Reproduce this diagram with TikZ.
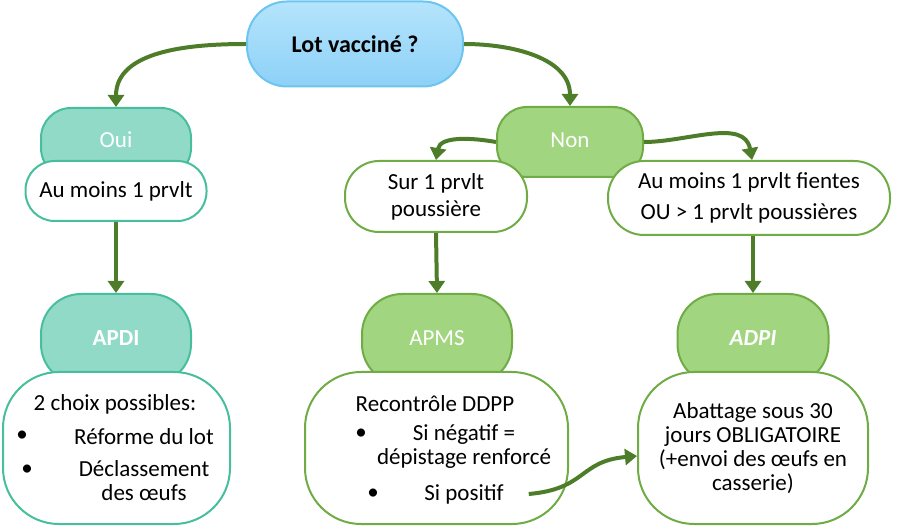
\documentclass[tikz,border=0pt]{standalone}
\usepackage{fontspec}
\setmainfont{Carlito}
\usetikzlibrary{arrows.meta}
\definecolor{arrowgreen}{HTML}{4E7D2A}
\definecolor{tealfill}{HTML}{91DAC8}
\definecolor{tealline}{HTML}{47BF9C}
\definecolor{greenfill}{HTML}{A1D57F}
\definecolor{greenline}{HTML}{6FAC46}
\definecolor{bluetop}{HTML}{B5E4FC}
\definecolor{bluebot}{HTML}{8DD1F7}
\definecolor{blueline}{HTML}{6CC5F0}
\tikzset{
  arr/.style={line width=2pt, draw=arrowgreen, -{Triangle[width=8pt,length=6pt]}},
  head/.style={line width=1pt, text=white, minimum width=75pt},
  teal head/.style={head, fill=tealfill, draw=tealline},
  green head/.style={head, fill=greenfill, draw=greenline},
  leaf/.style={line width=1pt, fill=white, align=center},
  teal leaf/.style={leaf, draw=tealline},
  green leaf/.style={leaf, draw=greenline},
  big leaf/.style={minimum height=76pt, rounded corners=28pt},
}
\begin{document}
\begin{tikzpicture}[x=0.5pt, y=-0.5pt, font=\fontsize{11.5}{12.5}\selectfont]
  \useasboundingbox (0,0) rectangle (900,529);
  % question
  \node[draw=blueline, line width=1pt, top color=bluetop, bottom color=bluebot,
        minimum width=108pt, minimum height=42.5pt, rounded corners=20pt,
        font=\fontsize{12}{13}\selectfont\bfseries] (lot) at (355,44) {Lot vacciné ?};
  % headers of first level
  \node[teal head, minimum height=35pt, rounded corners=15pt] (oui) at (116,143) {};
  \node[text=white] (ouitxt) at (116,140) {Oui};
  \node[green head, minimum width=73pt, minimum height=35pt, rounded corners=15pt] (non) at (570,142) {};
  \node[text=white] (nontxt) at (570,140) {Non};
  % conditions
  \node[teal leaf, minimum width=90.5pt, minimum height=30pt, rounded corners=14.5pt] (prvlt) at (116,191) {Au moins 1 prvlt};
  \node[green leaf, minimum width=91pt, minimum height=35.5pt, rounded corners=17pt] (sur) at (436,196.5) {Sur 1 prvlt\\[1pt]poussière};
  \node[green leaf, minimum width=141pt, minimum height=37pt, rounded corners=18pt] (fientes) at (749,198) {Au moins 1 prvlt fientes\\[3pt]OU > 1 prvlt poussières};
  % decisions
  \node[teal head, minimum height=45pt, rounded corners=20pt] (apdi) at (116,339) {};
  \node[text=white, font=\fontsize{11.5}{12.5}\selectfont\bfseries] (apditxt) at (116,338) {APDI};
  \node[green head, minimum height=45pt, rounded corners=20pt] (apms) at (437,339) {};
  \node[text=white] (apmstxt) at (437,338) {APMS};
  \node[green head, minimum width=75.5pt, minimum height=45pt, rounded corners=20pt] (adpi) at (753,339) {};
  \node[text=white, font=\fontsize{11.5}{12.5}\selectfont\bfseries\itshape] (adpitxt) at (753,338) {ADPI};
  % measures
  \node[teal leaf, big leaf, minimum width=113.5pt] (apdibox) at (116.5,448) {};
  \node (choix) at (115,404) {2 choix possibles:};
  \node (b1) at (22,436) {•};
  \node (reforme) at (144,437) {Réforme du lot};
  \node (b2) at (27,470) {•};
  \node[align=center] (declass) at (144,481) {Déclassement\\[-0.5pt]des œufs};
  \node[green leaf, big leaf, minimum width=131.5pt] (apmsbox) at (436.5,448) {};
  \node (recontrole) at (435,404) {Recontrôle DDPP};
  \node (b3) at (361,434) {•};
  \node[align=center] (negatif) at (464,447) {Si négatif =\\[-0.5pt]dépistage renforcé};
  \node (b4) at (373,494) {•};
  \node (positif) at (464,494) {Si positif};
  \node[green leaf, big leaf, minimum width=115pt] (adpibox) at (753,448)
    {Abattage sous 30\\[-0.5pt]jours OBLIGATOIRE\\[-0.5pt](+envoi des œufs en\\[-0.5pt]casserie)};
  % connectors
  \draw[arr] (lot.west) to[out=180, in=90] (oui.north);
  \draw[arr] (lot.east) to[out=0, in=90] (non.north);
  \draw[arr] (non.west) to[out=170, in=80] (sur.north);
  \draw[arr] (non.east) to[out=0, in=100] ([xshift=1.5pt]fientes.north);
  \draw[arr] (prvlt.south) -- (apdi.north);
  \draw[arr] (sur.south) -- (apms.north);
  \draw[arr] (adpi.north |- fientes.south) -- (adpi.north);
  \draw[arr] ([xshift=9pt]positif.east) to[out=5, in=185, looseness=1.3] ([yshift=-4pt]adpibox.west);
\end{tikzpicture}
\end{document}
